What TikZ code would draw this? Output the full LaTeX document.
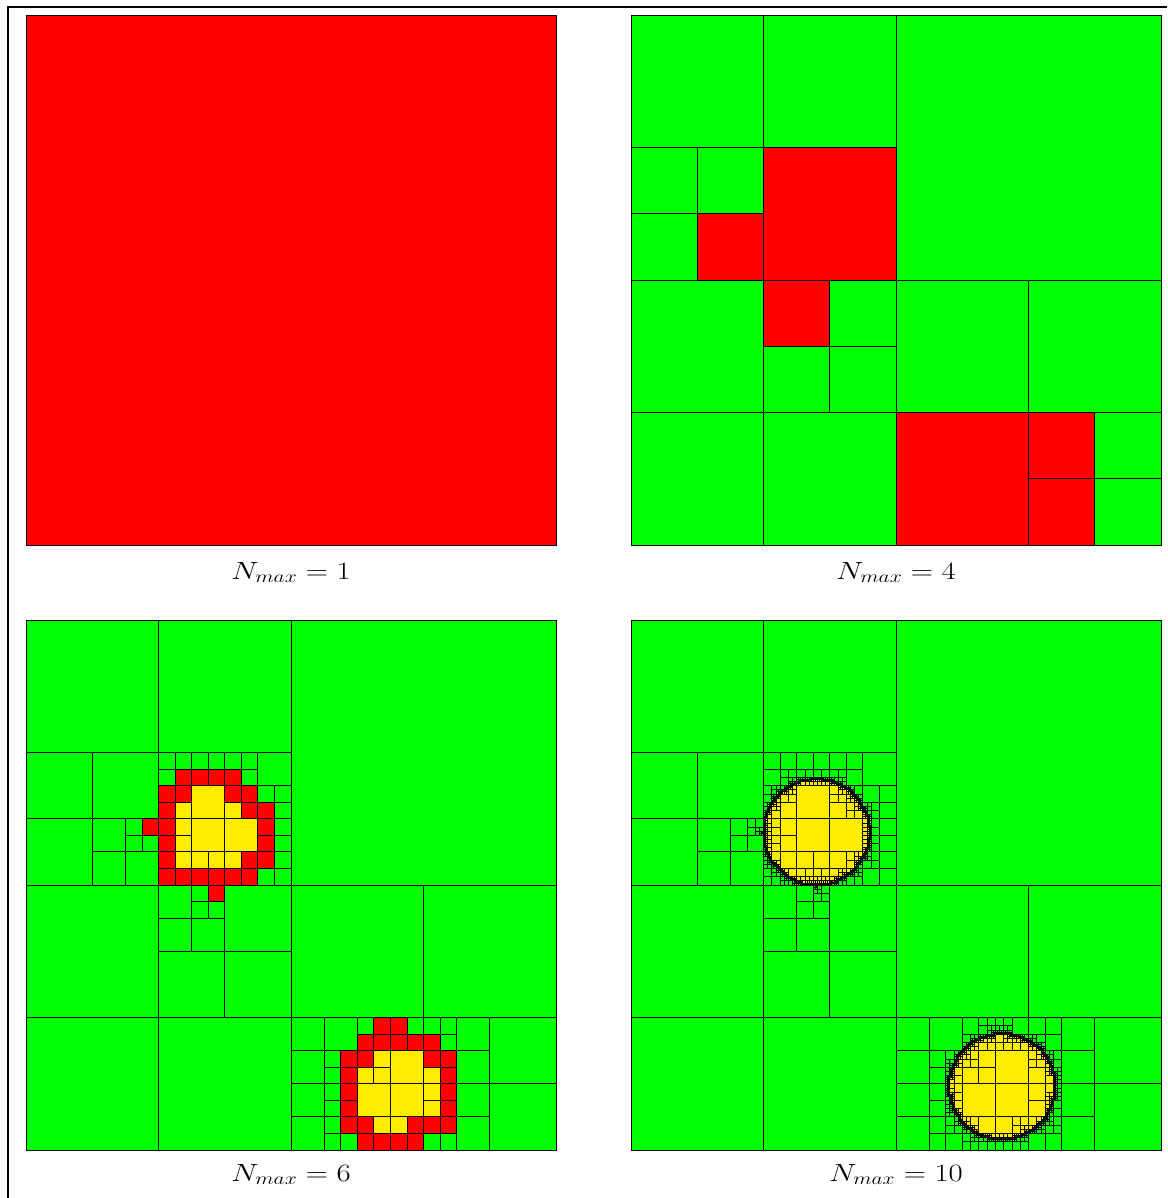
\documentclass[tikz,border=0pt]{standalone}
\usepackage{tikz}
\definecolor{qgreen}{RGB}{0,255,0}
\definecolor{qred}{RGB}{255,0,0}
\definecolor{qyellow}{RGB}{255,236,0}

% quadtree of two circles, coordinates in units of 1/25600 of a panel side, y from top
\def\qtRsq{6553600}% radius 2560 squared
\newcount\qtA \newcount\qtB \newcount\qtDX \newcount\qtDY \newcount\qtMX \newcount\qtMY
\newif\ifqtmerge

\def\qtcirc#1#2{%
  \qtA=\numexpr\qtx-#1\relax
  \qtB=\numexpr\qty-#2\relax
  \qtDX=\qtA
  \ifnum\qtDX<\numexpr-\qtA-\qts\relax \qtDX=\numexpr-\qtA-\qts\relax\fi
  \ifnum\qtDX<0 \qtDX=0 \fi
  \qtDY=\qtB
  \ifnum\qtDY<\numexpr-\qtB-\qts\relax \qtDY=\numexpr-\qtB-\qts\relax\fi
  \ifnum\qtDY<0 \qtDY=0 \fi
  \qtMX=-\qtA
  \ifnum\qtMX<\numexpr\qtA+\qts\relax \qtMX=\numexpr\qtA+\qts\relax\fi
  \qtMY=-\qtB
  \ifnum\qtMY<\numexpr\qtB+\qts\relax \qtMY=\numexpr\qtB+\qts\relax\fi
  \ifnum\numexpr\qtMX*\qtMX+\qtMY*\qtMY\relax<\qtRsq\relax
    \def\qtc{2}%
  \else
    \ifnum\numexpr\qtDX*\qtDX+\qtDY*\qtDY\relax>\qtRsq\relax
    \else \def\qtc{0}\fi
  \fi}

\def\qtclassify{%
  \def\qtc{1}%
  \qtcirc{8960}{10240}%
  \ifnum\qtc=2\relax\else\qtcirc{17920}{22528}\fi}

\def\qtleaf#1#2#3#4{%
  \ifcase#4\relax\or\pgfsetfillcolor{qgreen}\or\pgfsetfillcolor{qyellow}\or\pgfsetfillcolor{qred}\fi
  \pgfpathrectanglecorners
    {\pgfqpoint{\the\numexpr\qtox+(#1)*13568/10\relax sp}{\the\numexpr\qtoy-(#2)*13568/10\relax sp}}%
    {\pgfqpoint{\the\numexpr\qtox+(#1+#3)*13568/10\relax sp}{\the\numexpr\qtoy-(#2+#3)*13568/10\relax sp}}%
  \pgfusepath{fill,stroke}}

\def\qtemit#1#2#3{%
  \ifnum#3>0\relax \qtleaf{#1}{#2}{\qths}{#3}\fi}

\def\qtmergecheck{%
  \qtmergefalse
  \ifnum\qtra>0\relax\ifnum\qtra=\qtrb\relax\ifnum\qtra=\qtrc\relax\ifnum\qtra=\qtrd\relax
    \qtmergetrue\fi\fi\fi\fi
  \ifqtmerge
    \xdef\qtres{\qtra}%
  \else
    \qtemit{\qtx}{\qty}{\qtra}%
    \qtemit{\qtxm}{\qty}{\qtrb}%
    \qtemit{\qtx}{\qtym}{\qtrc}%
    \qtemit{\qtxm}{\qtym}{\qtrd}%
    \gdef\qtres{0}%
  \fi}

\def\qtcell#1#2#3#4{%
  \begingroup
  \edef\qtx{\the\numexpr#1\relax}%
  \edef\qty{\the\numexpr#2\relax}%
  \edef\qts{\the\numexpr#3\relax}%
  \edef\qtl{\the\numexpr#4\relax}%
  \qtclassify
  \ifnum\qtc>0\relax
    \xdef\qtres{\qtc}%
  \else
    \ifnum\qtl=\qtmaxlevel\relax
      \gdef\qtres{3}%
    \else
      \edef\qths{\the\numexpr\qts/2\relax}%
      \edef\qtxm{\the\numexpr\qtx+\qths\relax}%
      \edef\qtym{\the\numexpr\qty+\qths\relax}%
      \edef\qtnl{\the\numexpr\qtl+1\relax}%
      \qtcell{\qtx}{\qty}{\qths}{\qtnl}\let\qtra\qtres
      \qtcell{\qtxm}{\qty}{\qths}{\qtnl}\let\qtrb\qtres
      \qtcell{\qtx}{\qtym}{\qths}{\qtnl}\let\qtrc\qtres
      \qtcell{\qtxm}{\qtym}{\qths}{\qtnl}\let\qtrd\qtres
      \qtmergecheck
    \fi
  \fi
  \endgroup}

\def\qtpanel#1#2#3{%
  \edef\qtox{\the\numexpr#1*65536\relax}%
  \edef\qtoy{\the\numexpr-#2*65536\relax}%
  \def\qtmaxlevel{#3}%
  \qtcell{0}{0}{25600}{0}%
  \ifnum\qtres>0\relax \qtleaf{0}{0}{25600}{\qtres}\fi}

\newcommand\qtlab[1]{\scalebox{1.24}[1]{\fontsize{23.5}{28}\selectfont$N_{max} = #1$}}
\tikzset{nlabel/.style={inner sep=0pt, anchor=base}}

\begin{document}
\begin{tikzpicture}[x=1pt,y=1pt]
\useasboundingbox (0,0) rectangle (1167,-1198);
\fill[white] (0,0) rectangle (1167,-1198);
\draw[line width=1.2pt] (8,-1198) -- (8,-7) -- (1167,-7);
\begin{scope}
\pgfsetlinewidth{0.8pt}%
\pgfsetstrokecolor{black}%
\qtpanel{26}{15}{0}%
\qtpanel{631}{15}{3}%
\qtpanel{26}{620}{5}%
\qtpanel{631}{620}{9}%
\end{scope}
\node[nlabel] (l1) at (291,-579) {\qtlab{1}};
\node[nlabel] (l2) at (896,-579) {\qtlab{4}};
\node[nlabel] (l3) at (291,-1181) {\qtlab{6}};
\node[nlabel] (l4) at (896,-1181) {\qtlab{10}};
\end{tikzpicture}
\end{document}
